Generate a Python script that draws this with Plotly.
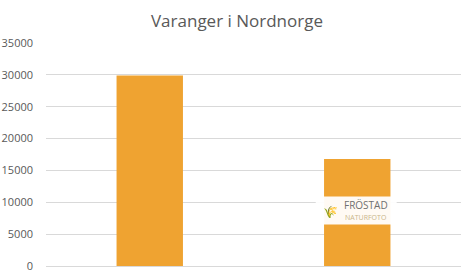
import plotly.graph_objects as go

categories = ["A", "B"]
values = [29900, 16800]
tick_vals = [0, 5000, 10000, 15000, 20000, 25000, 30000, 35000]
tick_text = ["0", "5000", "10000", "15000", "20000", "25000", "30000", "35000"]
title = "Varanger i Nordnorge"

fig = go.Figure()
fig.add_trace(go.Bar(x=categories, y=values, marker_color="#EFA331",
                     marker_line_width=0, width=0.32))

fig.update_layout(
    width=474, height=275,
    margin=dict(l=46, r=13, t=43, b=9, autoexpand=False),
    paper_bgcolor="white", plot_bgcolor="white",
    title=dict(text=title, x=0.5, xanchor="center", y=0.925, yanchor="middle",
               font=dict(family="Open Sans", size=17, color="#595959")),
    showlegend=False,
    font=dict(family="Open Sans", size=11, color="#595959"),
)
fig.update_yaxes(range=[0, 35000], tickvals=tick_vals, ticktext=tick_text,
                 showgrid=True, automargin=False,
                 gridcolor="#D9D9D9", gridwidth=1, zeroline=False,
                 showline=False, ticks="", ticklabelstandoff=12,
                 tickfont=dict(size=11, color="#595959"))
fig.update_xaxes(showticklabels=False, showgrid=False, showline=True,
                 automargin=False, linecolor="#D9D9D9", ticks="")

# watermark band over second bar
fig.add_shape(type="rect", xref="x", yref="y", x0=0.8, x1=1.19,
              y0=6500, y1=10900, fillcolor="rgba(255,255,255,0.95)",
              line_width=0, layer="above")
fig.add_annotation(x=1.04, y=9600, xref="x", yref="y", text="FRÖSTAD",
                   showarrow=False, font=dict(family="Open Sans", size=10, color="#707070"))
fig.add_annotation(x=1.04, y=7600, xref="x", yref="y", text="NATURFOTO",
                   showarrow=False, font=dict(family="Open Sans", size=7, color="#C9B58A"))
fig.add_annotation(x=0.87, y=8500, xref="x", yref="y", text="🌾",
                   showarrow=False, font=dict(size=12, color="#A08030"))

fig.write_html("out.html")
